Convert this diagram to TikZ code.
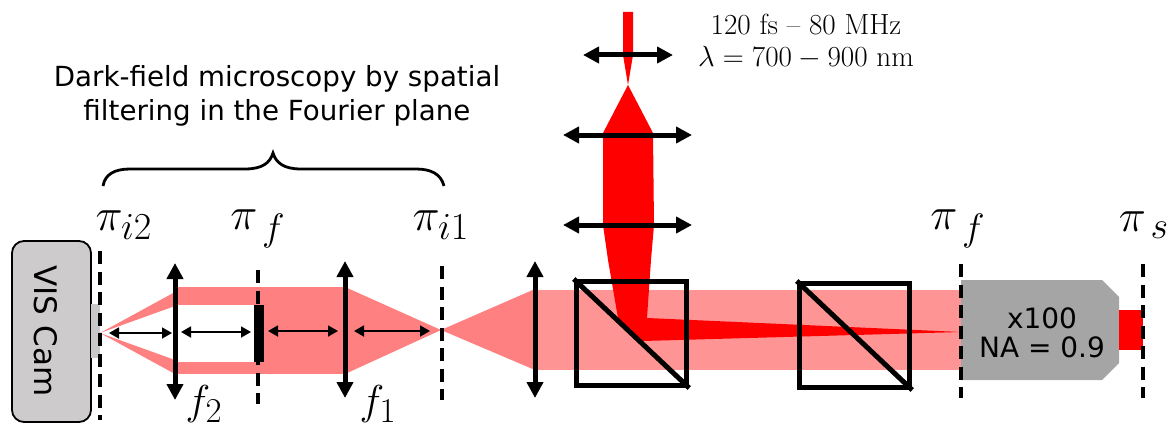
\documentclass[tikz,border=0pt]{standalone}
\usepackage{fontspec}
\newfontfamily\djsans{DejaVu Sans}
\usetikzlibrary{arrows.meta}
\definecolor{pinkA}{RGB}{255,128,128}
\definecolor{pinkB}{RGB}{255,148,148}
\definecolor{camgray}{RGB}{205,203,204}
\definecolor{stubgray}{RGB}{200,200,200}
\definecolor{objgray}{RGB}{165,165,165}
\tikzset{
 lensline/.style={line width=5pt,{Triangle[length=16pt,width=16pt]}-{Triangle[length=16pt,width=16pt]}},
 focusarrow/.style={line width=1.8pt,{Triangle[length=10pt,width=11pt]}-{Triangle[length=10pt,width=11pt]}},
 planeline/.style={line width=3.4pt,dash pattern=on 13pt off 7.5pt},
 cube/.style={draw,line width=5pt,fill=none,minimum width=110.5pt,minimum height=104pt,inner sep=0pt},
 mathlabel/.style={inner sep=0pt,scale=1.84,transform shape,font=\fontsize{24.88}{30}\selectfont},
 focuslabel/.style={inner sep=0pt,scale=1.68,transform shape,font=\fontsize{24.88}{30}\selectfont},
 sanslabel/.style={inner sep=0pt,align=center,font=\djsans\fontsize{27.7}{34}\selectfont},
 objlabel/.style={inner sep=0pt,align=center,font=\djsans\fontsize{28}{29}\selectfont},
 serifnote/.style={inner sep=0pt,align=center,scale=1.17,transform shape,font=\fontsize{24.88}{27.4}\selectfont}
}
\begin{document}
\begin{tikzpicture}[x=1pt,y=-1pt]
\useasboundingbox (0,0) rectangle (1171,428);
% beams
\fill[pinkB] (535,290) rectangle (961,370);
\fill[pinkA] (175,287) rectangle (345,374);
\fill[white] (175,305) rectangle (256,362);
\fill[pinkA] (100,333) -- (175,292) -- (175,306) -- cycle;
\fill[pinkA] (100,333) -- (175,360) -- (175,374) -- cycle;
\fill[pinkA] (345,287) -- (441,330) -- (345,374) -- cycle;
\fill[pinkA] (441,330) -- (535,289) -- (535,370) -- cycle;
\fill[red] (623,12) -- (633,12) -- (633,55) -- (628,85) -- (623,55) -- cycle;
\fill[red] (628,85) -- (653,133) -- (654,225) -- (651,260) -- (647,318) -- (961,332) -- (643,341) -- (618,318) -- (608,260) -- (603,225) -- (603,133) -- cycle;
% camera
\node[draw,line width=1.8pt,fill=camgray,rounded corners=12pt,minimum width=79pt,minimum height=181pt,inner sep=0pt] (cam) at (51.5,331.5) {};
\node[fill=stubgray,minimum width=9pt,minimum height=54pt,inner sep=0pt] (stub) at (95.5,331) {};
\node[rotate=-90,inner sep=0pt,font=\djsans\fontsize{31}{34}\selectfont] (camtext) at (46,331) {VIS Cam};
% objective
\fill[objgray] (961,280) -- (1102,280) -- (1119,297) -- (1119,363) -- (1102,380) -- (961,380) -- cycle;
\fill[red] (1119,310) rectangle (1143,350);
\node[objlabel] (objtext) at (1042,332.5) {x100\\NA = 0.9};
% filter
\node[fill=black,minimum width=10pt,minimum height=57pt,inner sep=0pt] (block) at (259,333.5) {};
% planes
\coordinate (p1a) at (100,251); \coordinate (p1b) at (100,420);
\coordinate (p2a) at (258,270); \coordinate (p2b) at (258,404);
\coordinate (p3a) at (442,266); \coordinate (p3b) at (442,400);
\coordinate (p4a) at (961,264); \coordinate (p4b) at (961,398);
\coordinate (p5a) at (1143,264); \coordinate (p5b) at (1143,398);
\draw[planeline] (p1a) -- (p1b);
\draw[planeline] (p2a) -- (p2b);
\draw[planeline] (p3a) -- (p3b);
\draw[planeline] (p4a) -- (p4b);
\draw[planeline] (p5a) -- (p5b);
% cubes
\node[cube] (c1) at (631.5,333.5) {};
\node[cube] (c2) at (854.5,335.5) {};
\draw[line width=5pt] (c1.north west) -- (c1.south east);
\draw[line width=5pt] (c2.north west) -- (c2.south east);
% lenses
\coordinate (l1a) at (175,263); \coordinate (l1b) at (175,400);
\coordinate (l2a) at (345,261); \coordinate (l2b) at (345,398);
\coordinate (l3a) at (535,261); \coordinate (l3b) at (535,398);
\coordinate (l4a) at (583,55); \coordinate (l4b) at (673,55);
\coordinate (l5a) at (563,135); \coordinate (l5b) at (692,135);
\coordinate (l6a) at (563,225); \coordinate (l6b) at (692,225);
\draw[lensline] (l1a) -- (l1b);
\draw[lensline] (l2a) -- (l2b);
\draw[lensline] (l3a) -- (l3b);
\draw[lensline] (l4a) -- (l4b);
\draw[lensline] (l5a) -- (l5b);
\draw[lensline] (l6a) -- (l6b);
% focal arrows
\coordinate (a1) at (109,333); \coordinate (a2) at (172,333);
\coordinate (a3) at (181,332); \coordinate (a4) at (251,332);
\coordinate (a5) at (268,331); \coordinate (a6) at (338,331);
\coordinate (a7) at (354,331); \coordinate (a8) at (430,331);
\draw[focusarrow] (a1) -- (a2);
\draw[focusarrow] (a3) -- (a4);
\draw[focusarrow] (a5) -- (a6);
\draw[focusarrow] (a7) -- (a8);
% brace
\draw[line width=2.8pt] (103,186) .. controls (105,174) and (115,169) .. (130,169) -- (245,169) .. controls (262,169) and (270,163) .. (273,153) .. controls (276,163) and (284,169) .. (301,169) -- (416,169) .. controls (431,169) and (441,174) .. (444,186);
% labels
\node[mathlabel] (t1) at (124,225) {$\pi_{i2}$};
\node[mathlabel] (t2) at (258,229) {$\pi_{\,f}$};
\node[mathlabel] (t3) at (441,225) {$\pi_{i1}$};
\node[mathlabel] (t4) at (958,229) {$\pi_{\,f}$};
\node[mathlabel] (t5) at (1144,225) {$\pi_{\,s}$};
\node[focuslabel] (f2) at (204,404) {$f_2$};
\node[focuslabel] (f1) at (378,404) {$f_1$};
\node[sanslabel] (title) at (277,96) {Dark-field microscopy by spatial\\filtering in the Fourier plane};
\node[serifnote] (note) at (806,41.5) {120 fs -- 80 MHz\\$\lambda = 700 - 900$ nm};
\end{tikzpicture}
\end{document}
